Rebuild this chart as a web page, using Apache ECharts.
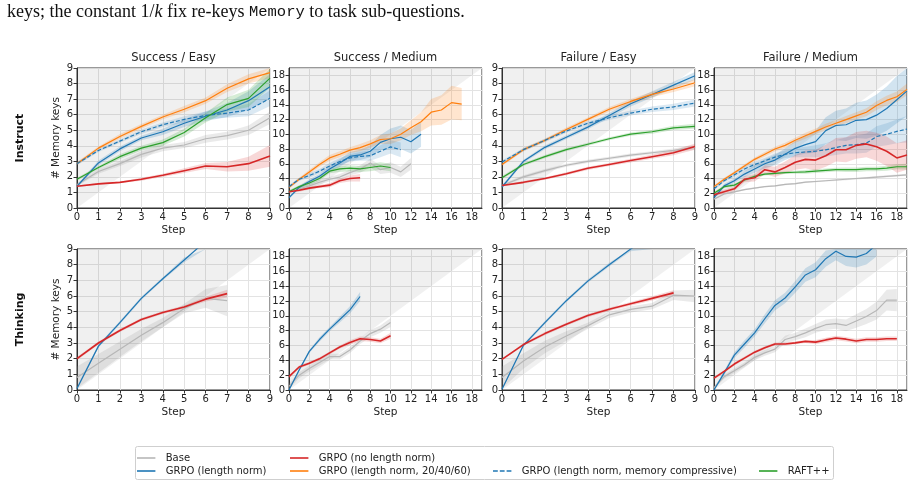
<!DOCTYPE html>
<html>
<head>
<meta charset="utf-8">
<script src="https://cdn.jsdelivr.net/npm/echarts@6/dist/echarts.min.js"></script>
<style>
  html, body { margin: 0; padding: 0; background: #fff; }
  #chart { width: 914px; height: 484px; }
</style>
</head>
<body>
<div id="chart"></div>
<script>
// series names
var N_BASE = 'Base';
var N_NONORM = 'GRPO (no length norm)';
var N_NORM = 'GRPO (length norm)';
var N_204060 = 'GRPO (length norm, 20/40/60)';
var N_COMP = 'GRPO (length norm, memory compressive)';
var N_RAFT = 'RAFT++';

// Instruct - Success / Easy  (x = step index)
var se_base    = [1.5, 2.35, 2.85, 3.45, 3.85, 4.05, 4.45, 4.65, 5.0, 5.8];
var se_nonorm  = [1.4, 1.55, 1.65, 1.85, 2.1, 2.4, 2.7, 2.65, 2.85, 3.35];
var se_norm    = [1.4, 2.9, 3.8, 4.5, 4.9, 5.45, 5.9, 6.3, 6.9, 7.8];
var se_204060  = [2.85, 3.85, 4.6, 5.25, 5.85, 6.35, 6.9, 7.7, 8.3, 8.7];
var se_comp    = [2.85, 3.7, 4.3, 4.9, 5.35, 5.7, 5.95, 6.1, 6.3, 7.05];
var se_raft    = [1.85, 2.6, 3.3, 3.85, 4.2, 4.85, 5.8, 6.65, 7.05, 8.35];
var se_base_sd   = [0.1, 0.15, 0.15, 0.2, 0.2, 0.2, 0.25, 0.25, 0.3, 0.4];
var se_nonorm_sd = [0.05, 0.05, 0.05, 0.1, 0.1, 0.15, 0.2, 0.3, 0.45, 0.7];
var se_norm_sd   = [0.1, 0.15, 0.15, 0.15, 0.2, 0.25, 0.3, 0.45, 0.6, 0.8];
var se_204060_sd = [0.1, 0.1, 0.15, 0.15, 0.15, 0.2, 0.2, 0.25, 0.3, 0.35];
var se_comp_sd   = [0.1, 0.1, 0.1, 0.15, 0.15, 0.2, 0.25, 0.3, 0.4, 0.5];
var se_raft_sd   = [0.1, 0.1, 0.15, 0.15, 0.2, 0.25, 0.3, 0.45, 0.55, 0.6];

// Instruct - Success / Medium
var sm_base    = [2.2, 2.6, 3.0, 3.5, 3.9, 4.2, 4.8, 5.3, 6.1, 5.2, 5.5, 4.9, 6.0];
var sm_nonorm  = [2.2, 2.4, 2.7, 2.9, 3.1, 3.7, 4.0, 4.1];
var sm_norm    = [1.4, 2.8, 3.6, 4.3, 5.3, 6.1, 7.0, 7.2, 7.7, 8.9, 9.4, 9.6, 9.0, 10.0];
var sm_204060  = [2.8, 3.9, 4.9, 5.9, 6.8, 7.3, 7.85, 8.2, 8.7, 9.3, 9.4, 10.0, 10.9, 11.7, 13.0, 13.3, 14.3, 14.1];
var sm_comp    = [2.9, 3.9, 4.4, 5.0, 5.7, 6.3, 6.8, 7.0, 7.1, 7.7, 8.3, 7.9];
var sm_raft    = [2.2, 2.9, 3.4, 4.0, 5.0, 5.3, 5.4, 5.3, 5.5, 5.7, 5.5];
var sm_base_sd   = [0.2, 0.2, 0.3, 0.3, 0.3, 0.4, 0.4, 0.5, 0.6, 0.6, 0.7, 0.7, 0.8];
var sm_nonorm_sd = [0.1, 0.2, 0.2, 0.2, 0.3, 0.3, 0.4, 0.5];
var sm_norm_sd   = [0.2, 0.2, 0.3, 0.3, 0.4, 0.5, 0.6, 0.7, 0.8, 1.0, 1.4, 1.6, 1.6, 1.7];
var sm_204060_sd = [0.2, 0.2, 0.3, 0.3, 0.4, 0.4, 0.4, 0.5, 0.5, 0.6, 0.7, 0.8, 1.0, 1.3, 1.8, 2.0, 2.3, 2.2];
var sm_comp_sd   = [0.2, 0.2, 0.3, 0.3, 0.4, 0.5, 0.5, 0.6, 0.7, 0.8, 0.9, 1.0];
var sm_raft_sd   = [0.2, 0.2, 0.3, 0.3, 0.3, 0.4, 0.4, 0.4, 0.5, 0.5, 0.5];

// Instruct - Failure / Easy
var fe_base    = [1.45, 2.0, 2.4, 2.75, 3.0, 3.2, 3.4, 3.55, 3.7, 3.9];
var fe_nonorm  = [1.45, 1.65, 1.9, 2.2, 2.55, 2.8, 3.05, 3.3, 3.55, 3.95];
var fe_norm    = [1.35, 3.0, 3.9, 4.55, 5.2, 5.95, 6.7, 7.3, 7.9, 8.5];
var fe_204060  = [2.8, 3.75, 4.35, 5.05, 5.7, 6.35, 6.85, 7.3, 7.65, 8.05];
var fe_comp    = [2.95, 3.75, 4.35, 4.95, 5.45, 5.8, 6.1, 6.35, 6.5, 6.75];
var fe_raft    = [1.95, 2.8, 3.3, 3.75, 4.1, 4.45, 4.75, 4.9, 5.15, 5.25];
var fe_base_sd   = [0.1, 0.1, 0.1, 0.1, 0.1, 0.1, 0.1, 0.1, 0.12, 0.15];
var fe_nonorm_sd = [0.05, 0.08, 0.08, 0.1, 0.1, 0.1, 0.12, 0.14, 0.16, 0.2];
var fe_norm_sd   = [0.1, 0.1, 0.12, 0.12, 0.14, 0.16, 0.18, 0.2, 0.22, 0.25];
var fe_204060_sd = [0.1, 0.1, 0.1, 0.12, 0.12, 0.14, 0.16, 0.18, 0.2, 0.22];
var fe_comp_sd   = [0.1, 0.1, 0.1, 0.12, 0.12, 0.14, 0.16, 0.18, 0.2, 0.22];
var fe_raft_sd   = [0.1, 0.1, 0.1, 0.1, 0.1, 0.1, 0.1, 0.12, 0.14, 0.16];

// Instruct - Failure / Medium
var fm_base    = [1.2, 1.9, 2.2, 2.5, 2.7, 2.9, 3.0, 3.2, 3.3, 3.5, 3.6, 3.7, 3.8, 3.9, 4.0, 4.1, 4.2, 4.3, 4.4, 4.5];
var fm_nonorm  = [1.8, 2.2, 2.6, 3.9, 4.1, 5.2, 4.9, 5.5, 6.2, 6.6, 6.5, 7.1, 7.9, 7.9, 8.5, 8.7, 8.3, 7.7, 6.8, 7.2];
var fm_norm    = [1.4, 3.0, 3.7, 4.6, 5.3, 6.0, 6.5, 7.3, 8.1, 8.6, 9.0, 10.5, 11.2, 11.3, 11.9, 12.0, 12.6, 13.5, 14.7, 15.9];
var fm_204060  = [2.9, 3.9, 4.8, 5.7, 6.6, 7.3, 8.0, 8.5, 9.2, 9.8, 10.4, 11.0, 11.5, 12.0, 12.5, 13.0, 13.9, 14.6, 15.1, 16.1];
var fm_comp    = [2.6, 3.7, 4.5, 5.3, 5.9, 6.4, 6.9, 7.3, 7.5, 7.6, 7.7, 7.9, 8.2, 8.5, 8.6, 8.8, 9.7, 10.0, 10.4, 10.7];
var fm_raft    = [2.0, 2.9, 3.1, 3.8, 4.3, 4.6, 4.7, 4.8, 4.85, 4.9, 5.0, 5.1, 5.2, 5.2, 5.2, 5.3, 5.3, 5.4, 5.6, 5.6];
var fm_base_sd   = [0.1, 0.1, 0.1, 0.1, 0.1, 0.1, 0.1, 0.1, 0.1, 0.1, 0.1, 0.1, 0.12, 0.12, 0.12, 0.12, 0.14, 0.14, 0.14, 0.14];
var fm_nonorm_sd = [0.2, 0.3, 0.3, 0.4, 0.5, 0.6, 0.7, 0.8, 1.0, 1.2, 1.4, 1.5, 1.6, 1.7, 1.8, 1.8, 1.9, 2.0, 2.0, 2.0];
var fm_norm_sd   = [0.2, 0.3, 0.3, 0.4, 0.5, 0.6, 0.7, 0.8, 1.0, 1.2, 1.5, 1.8, 2.0, 2.2, 2.4, 2.6, 2.8, 3.0, 3.2, 3.4];
var fm_204060_sd = [0.2, 0.2, 0.2, 0.25, 0.25, 0.3, 0.3, 0.35, 0.35, 0.4, 0.4, 0.45, 0.45, 0.5, 0.5, 0.55, 0.6, 0.65, 0.7, 0.8];
var fm_comp_sd   = [0.2, 0.2, 0.3, 0.3, 0.4, 0.4, 0.5, 0.5, 0.6, 0.7, 0.8, 0.9, 1.0, 1.1, 1.2, 1.3, 1.4, 1.5, 1.6, 1.8];
var fm_raft_sd   = [0.2, 0.2, 0.2, 0.2, 0.2, 0.2, 0.2, 0.2, 0.2, 0.25, 0.25, 0.25, 0.25, 0.3, 0.3, 0.3, 0.3, 0.35, 0.35, 0.4];

// Thinking - Success / Easy
var t1_base   = [0.8, 1.7, 2.6, 3.5, 4.3, 5.2, 5.85, 5.7];
var t1_nonorm = [2.0, 3.0, 3.8, 4.5, 4.95, 5.3, 5.8, 6.15];
var t1_norm   = [0.1, 2.8, 4.3, 5.85, 7.1, 8.3, 9.5];
var t1_base_sd   = [0.7, 0.6, 0.5, 0.4, 0.3, 0.3, 0.6, 1.0];
var t1_nonorm_sd = [0.1, 0.1, 0.1, 0.1, 0.1, 0.1, 0.15, 0.25];
var t1_norm_sd   = [0.1, 0.1, 0.1, 0.1, 0.1, 0.15, 0.15];

// Thinking - Success / Medium
var t2_base   = [0.5, 2.0, 2.9, 3.7, 4.5, 4.5, 5.4, 6.6, 7.6, 8.2, 9.1];
var t2_nonorm = [1.8, 3.1, 3.6, 4.2, 5.0, 5.8, 6.4, 6.9, 6.8, 6.6, 7.3];
var t2_norm   = [0.0, 2.7, 5.2, 6.8, 8.2, 9.5, 10.8, 12.6];
var t2_base_sd   = [0.4, 0.4, 0.4, 0.4, 0.4, 0.4, 0.4, 0.4, 0.5, 0.5, 0.6];
var t2_nonorm_sd = [0.2, 0.2, 0.2, 0.2, 0.2, 0.2, 0.3, 0.3, 0.3, 0.3, 0.4];
var t2_norm_sd   = [0.1, 0.2, 0.2, 0.3, 0.3, 0.4, 0.5, 0.6];

// Thinking - Failure / Easy
var t3_base   = [0.8, 1.85, 2.75, 3.45, 4.1, 4.8, 5.15, 5.35, 6.05, 6.0];
var t3_nonorm = [1.95, 2.9, 3.6, 4.2, 4.75, 5.15, 5.5, 5.85, 6.2];
var t3_norm   = [0.05, 2.85, 4.3, 5.7, 6.95, 8.0, 9.0, 9.9];
var t3_base_sd   = [0.7, 0.5, 0.4, 0.3, 0.2, 0.2, 0.2, 0.2, 0.3, 0.4];
var t3_nonorm_sd = [0.05, 0.08, 0.1, 0.1, 0.1, 0.1, 0.12, 0.14, 0.16];
var t3_norm_sd   = [0.05, 0.1, 0.1, 0.1, 0.1, 0.12, 0.14, 0.16];

// Thinking - Failure / Medium
var t4_base   = [0.3, 1.8, 2.6, 3.4, 4.4, 5.0, 5.5, 6.8, 7.2, 7.7, 8.3, 8.8, 8.95, 8.7, 9.3, 9.9, 10.7, 12.1, 12.1];
var t4_nonorm = [1.6, 2.5, 3.5, 4.3, 5.1, 5.7, 6.2, 6.2, 6.35, 6.55, 6.45, 6.75, 7.0, 6.85, 6.6, 6.8, 6.8, 6.9, 6.9];
var t4_norm   = [0.0, 2.3, 4.7, 6.2, 7.7, 9.6, 11.4, 12.4, 13.9, 15.5, 16.2, 17.7, 18.7, 18.0, 17.9, 18.4, 19.6];
var t4_base_sd   = [0.2, 0.3, 0.3, 0.3, 0.4, 0.4, 0.4, 0.5, 0.5, 0.6, 0.6, 0.7, 0.7, 0.8, 0.9, 1.0, 1.2, 1.4, 1.5];
var t4_nonorm_sd = [0.2, 0.2, 0.2, 0.2, 0.2, 0.2, 0.2, 0.2, 0.2, 0.2, 0.3, 0.3, 0.3, 0.3, 0.3, 0.3, 0.3, 0.3, 0.3];
var t4_norm_sd   = [0.2, 0.3, 0.4, 0.5, 0.5, 0.6, 0.7, 0.7, 0.8, 0.9, 1.0, 1.1, 1.2, 1.3, 1.4, 1.5, 1.6];

var colTitles = ['Success / Easy', 'Success / Medium', 'Failure / Easy', 'Failure / Medium'];
var rowTitles = ['Instruct', 'Thinking'];
var colMax = [9, 19, 9, 19];

var COLORS = {};
COLORS[N_BASE] = '#b7b7b7';
COLORS[N_NONORM] = '#d62728';
COLORS[N_NORM] = '#1f77b4';
COLORS[N_204060] = '#ff7f0e';
COLORS[N_COMP] = '#1f77b4';
COLORS[N_RAFT] = '#2ca02c';
var BANDS = {};
BANDS[N_BASE] = 'rgba(150,150,150,0.2)';
BANDS[N_NONORM] = 'rgba(214,39,40,0.18)';
BANDS[N_NORM] = 'rgba(31,119,180,0.2)';
BANDS[N_204060] = 'rgba(255,127,14,0.2)';
BANDS[N_COMP] = 'rgba(31,119,180,0.16)';
BANDS[N_RAFT] = 'rgba(44,160,44,0.2)';

var panels = [
  { row: 0, col: 0, lines: [[N_BASE, se_base, se_base_sd], [N_NORM, se_norm, se_norm_sd], [N_204060, se_204060, se_204060_sd], [N_COMP, se_comp, se_comp_sd], [N_RAFT, se_raft, se_raft_sd], [N_NONORM, se_nonorm, se_nonorm_sd]] },
  { row: 0, col: 1, lines: [[N_BASE, sm_base, sm_base_sd], [N_NORM, sm_norm, sm_norm_sd], [N_204060, sm_204060, sm_204060_sd], [N_COMP, sm_comp, sm_comp_sd], [N_RAFT, sm_raft, sm_raft_sd], [N_NONORM, sm_nonorm, sm_nonorm_sd]] },
  { row: 0, col: 2, lines: [[N_BASE, fe_base, fe_base_sd], [N_NORM, fe_norm, fe_norm_sd], [N_204060, fe_204060, fe_204060_sd], [N_COMP, fe_comp, fe_comp_sd], [N_RAFT, fe_raft, fe_raft_sd], [N_NONORM, fe_nonorm, fe_nonorm_sd]] },
  { row: 0, col: 3, lines: [[N_BASE, fm_base, fm_base_sd], [N_NORM, fm_norm, fm_norm_sd], [N_204060, fm_204060, fm_204060_sd], [N_COMP, fm_comp, fm_comp_sd], [N_RAFT, fm_raft, fm_raft_sd], [N_NONORM, fm_nonorm, fm_nonorm_sd]] },
  { row: 1, col: 0, lines: [[N_BASE, t1_base, t1_base_sd], [N_NORM, t1_norm, t1_norm_sd], [N_NONORM, t1_nonorm, t1_nonorm_sd]] },
  { row: 1, col: 1, lines: [[N_BASE, t2_base, t2_base_sd], [N_NORM, t2_norm, t2_norm_sd], [N_NONORM, t2_nonorm, t2_nonorm_sd]] },
  { row: 1, col: 2, lines: [[N_BASE, t3_base, t3_base_sd], [N_NORM, t3_norm, t3_norm_sd], [N_NONORM, t3_nonorm, t3_nonorm_sd]] },
  { row: 1, col: 3, lines: [[N_BASE, t4_base, t4_base_sd], [N_NORM, t4_norm, t4_norm_sd], [N_NONORM, t4_nonorm, t4_nonorm_sd]] }
];

var colLeft = [77, 289, 502, 714];
var colWidth = 193;
var rowTop = [68, 249];
var rowHeight = [140, 141];
var FONT = 'DejaVu Sans';

function clampY(v, m) { return Math.max(0, Math.min(m, v)); }

var grids = [], xAxes = [], yAxes = [], series = [];

panels.forEach(function (p, gi) {
  var m = colMax[p.col];
  var step = m === 9 ? 1 : 2;
  grids.push({
    left: colLeft[p.col], top: rowTop[p.row], width: colWidth, height: rowHeight[p.row],
    show: true, borderColor: '#333', borderWidth: 1, backgroundColor: 'transparent'
  });
  var axisCommon = {
    type: 'value', gridIndex: gi, min: 0, max: m, interval: step,
    axisLine: { show: true, onZero: false, lineStyle: { color: '#333', width: 1 } },
    axisTick: { show: true, length: 3.5, lineStyle: { color: '#333' } },
    splitLine: { show: true, lineStyle: { color: '#e3e3e3', width: 1 } },
    nameTextStyle: { fontFamily: FONT, fontSize: 10.5, color: '#222' }
  };
  xAxes.push(Object.assign({}, axisCommon, {
    name: 'Step', nameLocation: 'middle', nameGap: 17,
    axisLabel: { fontFamily: FONT, fontSize: 10, color: '#222', margin: 4, showMaxLabel: m === 9, showMinLabel: true }
  }));
  yAxes.push(Object.assign({}, axisCommon, {
    name: p.col === 0 ? '# Memory keys' : '', nameLocation: 'middle', nameGap: 15,
    axisLabel: { fontFamily: FONT, fontSize: 10, color: '#222', margin: 4, showMaxLabel: m === 9, showMinLabel: true }
  }));

  // shaded reference region above y = x
  var refX = [0, m];
  series.push({
    type: 'custom', xAxisIndex: gi, yAxisIndex: gi, silent: true, clip: true, z: 1,
    data: [[0, 0]],
    renderItem: function (params, api) {
      var pts = [api.coord([refX[0], refX[0]]), api.coord([refX[1], refX[1]]), api.coord([refX[0], m])];
      return { type: 'polygon', shape: { points: pts }, style: { fill: 'rgba(0,0,0,0.06)' } };
    }
  });

  // confidence bands
  p.lines.forEach(function (ln) {
    var ys = ln[1], sd = ln[2];
    series.push({
      type: 'custom', xAxisIndex: gi, yAxisIndex: gi, silent: true, clip: true, z: 2,
      data: [[0, ys[0]]],
      renderItem: function (params, api) {
        var pts = [];
        for (var i = 0; i < ys.length; i++) pts.push(api.coord([i, clampY(ys[i] + sd[i], m)]));
        for (var j = ys.length - 1; j >= 0; j--) pts.push(api.coord([j, clampY(ys[j] - sd[j], m)]));
        return { type: 'polygon', shape: { points: pts }, style: { fill: BANDS[ln[0]] } };
      }
    });
  });

  // mean lines
  p.lines.forEach(function (ln) {
    series.push({
      type: 'line', name: ln[0], xAxisIndex: gi, yAxisIndex: gi, z: 3,
      symbol: 'none', clip: true,
      data: ln[1].map(function (v, i) { return [i, v]; }),
      itemStyle: { color: COLORS[ln[0]] },
      lineStyle: {
        color: COLORS[ln[0]],
        width: ln[0] === N_NONORM ? 1.6 : 1.2,
        type: ln[0] === N_COMP ? [4, 2] : 'solid'
      }
    });
  });
});

var graphics = [];
colTitles.forEach(function (t, c) {
  graphics.push({
    type: 'text', x: colLeft[c] + colWidth / 2, y: 58,
    style: { text: t, fontFamily: FONT, fontSize: 11.5, fill: '#222', textAlign: 'center', textVerticalAlign: 'middle' }
  });
});
rowTitles.forEach(function (t, r) {
  graphics.push({
    type: 'text', x: 20, y: rowTop[r] + rowHeight[r] / 2, rotation: Math.PI / 2,
    style: { text: t, fontFamily: FONT, fontSize: 11, fontWeight: 'bold', fill: '#111', textAlign: 'center', textVerticalAlign: 'middle' }
  });
});
graphics.push({
  type: 'text', x: 7, y: 12,
  style: {
    text: '{a|keys; the constant }{a|1/}{i|k}{a| fix re-keys }{m|Memory}{a| to task sub-questions.}',
    textVerticalAlign: 'middle',
    rich: {
      a: { fontFamily: 'Liberation Serif', fontSize: 18, fill: '#111' },
      i: { fontFamily: 'Liberation Serif', fontSize: 18, fontStyle: 'italic', fill: '#111' },
      m: { fontFamily: 'Liberation Mono', fontSize: 15.5, fill: '#111' }
    }
  }
});
graphics.push({
  type: 'rect', shape: { x: 135.5, y: 446.5, width: 698, height: 33, r: 2 },
  style: { fill: 'rgba(255,255,255,0.9)', stroke: '#cfcfcf', lineWidth: 1 }, z: -1
});

var SOLID_ICON = 'path://M0,0H23V2H0Z';
var DASH_ICON = 'path://M0,0H6V2H0Z M8.5,0H14.5V2H8.5Z M17,0H23V2H17Z';
var legendCommon = {
  orient: 'horizontal', padding: 0, itemWidth: 23, itemHeight: 1.6, selectedMode: false,
  textStyle: { fontFamily: FONT, fontSize: 10, color: '#222', padding: [0, 0, 0, 3] }
};
var legendSpec = [
  [N_BASE, 137, 453], [N_NONORM, 290, 453],
  [N_NORM, 137, 466], [N_204060, 290, 466], [N_COMP, 493, 466], [N_RAFT, 759, 466]
];
var legends = legendSpec.map(function (s) {
  return Object.assign({}, legendCommon, {
    data: [{ name: s[0], icon: s[0] === N_COMP ? DASH_ICON : SOLID_ICON }],
    left: s[1], top: s[2]
  });
});

var chart = echarts.init(document.getElementById('chart'), null, { renderer: 'canvas' });
chart.setOption({
  animation: false,
  backgroundColor: '#fff',
  grid: grids,
  xAxis: xAxes,
  yAxis: yAxes,
  legend: legends,
  graphic: graphics,
  series: series
});
</script>
</body>
</html>
